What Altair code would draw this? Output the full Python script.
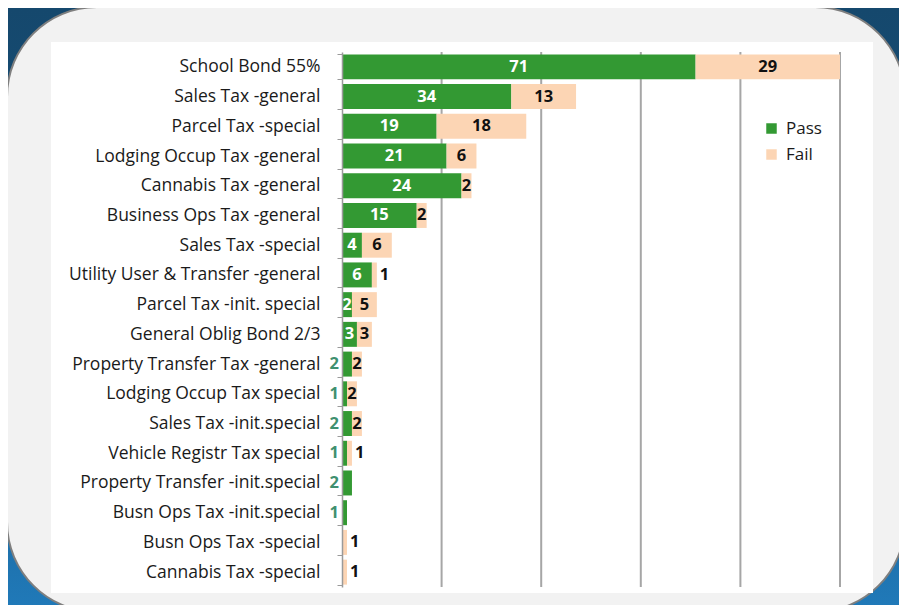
import altair as alt
import pandas as pd

categories = [
    "School Bond 55%",
    "Sales Tax -general",
    "Parcel Tax -special",
    "Lodging Occup Tax -general",
    "Cannabis Tax -general",
    "Business Ops Tax -general",
    "Sales Tax -special",
    "Utility User & Transfer -general",
    "Parcel Tax -init. special",
    "General Oblig Bond 2/3",
    "Property Transfer Tax -general",
    "Lodging Occup Tax special",
    "Sales Tax -init.special",
    "Vehicle Registr Tax special",
    "Property Transfer -init.special",
    "Busn Ops Tax -init.special",
    "Busn Ops Tax -special",
    "Cannabis Tax -special",
]
pass_values = [71, 34, 19, 21, 24, 15, 4, 6, 2, 3, 2, 1, 2, 1, 2, 1, 0, 0]
fail_values = [29, 13, 18, 6, 2, 2, 6, 1, 5, 3, 2, 2, 2, 1, 0, 0, 1, 1]
grid_ticks = [20, 40, 60, 80, 100]
statuses = ["Pass", "Fail"]

GREEN = "#339933"
PEACH = "#fcd5b4"
FONT = "Open Sans"
PLOT_W = 498
PLOT_H = 535
PAD = {"left": 334, "right": 59, "top": 44, "bottom": 18}
CANVAS_W = PLOT_W + PAD["left"] + PAD["right"]
CANVAS_H = PLOT_H + PAD["top"] + PAD["bottom"]

rows = []
for c, p, f in zip(categories, pass_values, fail_values):
    rows.append(dict(category=c, status="Pass", start=0, end=p, value=p))
    rows.append(dict(category=c, status="Fail", start=p, end=p + f, value=f))
df = pd.DataFrame(rows)
df["mid"] = (df["start"] + df["end"]) / 2
df = df[df["value"] > 0]

# Excel put the small pass counts beside the bar, except where the fail part is wide
pass_rows = df[df.status == "Pass"]
fail_by_cat = dict(zip(categories, fail_values))
inside_mask = (pass_rows.value >= 3) | (pass_rows.category.map(fail_by_cat) >= 5)
pass_in = pass_rows[inside_mask]
pass_out = pass_rows[~inside_mask]
fail_in = df[(df.status == "Fail") & (df.value >= 2)]
fail_out = df[(df.status == "Fail") & (df.value < 2)]

xscale = alt.Scale(domain=[0, 100], nice=False, zero=True)
yscale = alt.Scale(domain=categories, paddingInner=0.16, paddingOuter=0.08)

y_enc = alt.Y(
    "category:N",
    sort=categories,
    scale=yscale,
    axis=alt.Axis(
        title=None,
        labelFont=FONT,
        labelFontSize=17.5,
        labelColor="#1a1a1a",
        labelPadding=17,
        labelLimit=400,
        tickSize=5,
        tickBand="extent",
        tickColor="#9a9a9a",
        domainColor="#9a9a9a",
        domainWidth=1.5,
        zindex=1,
    ),
)

one = pd.DataFrame({"k": [0]})

blue_bg = alt.Chart(one).mark_rect(
    fill=alt.LinearGradient(
        gradient="linear",
        stops=[
            alt.GradientStop(offset=0, color="#15486d"),
            alt.GradientStop(offset=0.45, color="#175079"),
            alt.GradientStop(offset=1, color="#2079b8"),
        ],
        x1=0, x2=0, y1=0, y2=1,
    )
).encode(
    x=alt.value(-PAD["left"]), x2=alt.value(CANVAS_W - PAD["left"]),
    y=alt.value(-PAD["top"]), y2=alt.value(CANVAS_H - PAD["top"]),
)

card = alt.Chart(one).mark_rect(
    fill="#f2f2f2", stroke="#7f7f7f", strokeWidth=2, cornerRadius=90
).encode(
    x=alt.value(-PAD["left"] - 1), x2=alt.value(563),
    y=alt.value(-PAD["top"] - 1), y2=alt.value(560),
)

white = alt.Chart(one).mark_rect(fill="white").encode(
    x=alt.value(-291), x2=alt.value(531),
    y=alt.value(-10), y2=alt.value(541),
)

grid = alt.Chart(pd.DataFrame({"t": grid_ticks})).mark_rule(
    color="#a6a6a6", strokeWidth=2
).encode(
    x=alt.X("t:Q", scale=xscale, axis=None),
    y=alt.value(0),
    y2=alt.value(PLOT_H),
)

bars = alt.Chart(df).mark_bar().encode(
    x=alt.X("start:Q", scale=xscale, axis=None),
    x2="end:Q",
    y=y_enc,
    color=alt.Color(
        "status:N",
        scale=alt.Scale(domain=statuses, range=[GREEN, PEACH]),
        legend=alt.Legend(
            title=None,
            orient="none",
            legendX=421,
            legendY=68,
            symbolType="square",
            symbolSize=110,
            symbolStrokeWidth=0,
            labelFont=FONT,
            labelFontSize=17,
            labelColor="#1a1a1a",
            labelOffset=6,
            rowPadding=8,
            padding=0,
        ),
    ),
)

txt = dict(font=FONT, fontSize=16.5, fontWeight="bold", baseline="middle")
ycat = alt.Y("category:N", sort=categories, scale=yscale)

t_pass_in = alt.Chart(pass_in).mark_text(color="white", **txt).encode(
    x=alt.X("mid:Q", scale=xscale), y=ycat, text="value:Q",
)
t_pass_out = alt.Chart(pass_out).mark_text(color="#3f9070", align="right", dx=-3, **txt).encode(
    x=alt.X("start:Q", scale=xscale), y=ycat, text="value:Q",
)
t_fail_in = alt.Chart(fail_in).mark_text(color="#111111", **txt).encode(
    x=alt.X("mid:Q", scale=xscale), y=ycat, text="value:Q",
)
t_fail_out = alt.Chart(fail_out).mark_text(color="#111111", align="left", dx=3, **txt).encode(
    x=alt.X("end:Q", scale=xscale), y=ycat, text="value:Q",
)

chart = alt.layer(
    blue_bg, card, white, grid, bars, t_pass_in, t_pass_out, t_fail_in, t_fail_out
).properties(
    width=PLOT_W,
    height=PLOT_H,
    padding=PAD,
    autosize=alt.AutoSizeParams(type="none"),
).configure_view(stroke=None)

chart.save("out.html", embed_options={"renderer": "svg", "actions": False})
